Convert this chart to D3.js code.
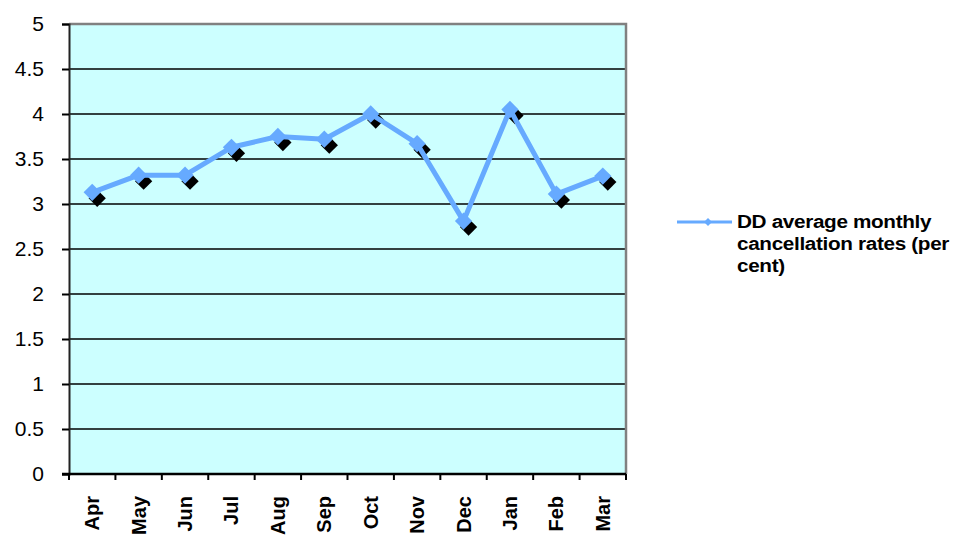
<!DOCTYPE html>
<html>
<head>
<meta charset="utf-8">
<script src="https://cdn.jsdelivr.net/npm/d3@7/dist/d3.min.js"></script>
<style>
  html, body { margin: 0; padding: 0; background: #fff; }
  svg { display: block; font-family: Arial, "Liberation Sans", sans-serif; }
</style>
</head>
<body>
<svg id="chart" width="963" height="544"></svg>
<script>
// Monthly cancellation rates (per cent), April to March
const months = ["Apr", "May", "Jun", "Jul", "Aug", "Sep", "Oct", "Nov", "Dec", "Jan", "Feb", "Mar"];
const rates = [3.13, 3.32, 3.32, 3.63, 3.75, 3.72, 4.0, 3.67, 2.81, 4.05, 3.11, 3.31];
const yTicks = [0, 0.5, 1, 1.5, 2, 2.5, 3, 3.5, 4, 4.5, 5];
const seriesName = ["DD average monthly", "cancellation rates (per", "cent)"];

const svg = d3.select("#chart");
const plot = { left: 69, top: 24, right: 626, bottom: 474 };
const lineColor = "#66aaff";

const x = d3.scaleBand().domain(months).range([plot.left, plot.right]).padding(0);
const y = d3.scaleLinear().domain([0, 5]).range([plot.bottom, plot.top]);

// plot background
svg.append("rect")
  .attr("x", plot.left).attr("y", plot.top)
  .attr("width", plot.right - plot.left).attr("height", plot.bottom - plot.top)
  .attr("fill", "#ccffff");

// horizontal gridlines
svg.append("g").selectAll("line")
  .data(yTicks.filter(d => d > 0 && d < 5))
  .join("line")
  .attr("x1", plot.left).attr("x2", plot.right)
  .attr("y1", d => y(d)).attr("y2", d => y(d))
  .attr("stroke", "#000").attr("stroke-width", 1.6);

// grey frame on top and right
svg.append("path")
  .attr("d", `M${plot.left},${plot.top}H${plot.right}V${plot.bottom}`)
  .attr("fill", "none").attr("stroke", "#808080").attr("stroke-width", 2.5);

// y axis
const yAxis = svg.append("g")
  .attr("transform", `translate(${plot.left},0)`)
  .call(d3.axisLeft(y).tickValues(yTicks).tickSize(7).tickPadding(18).tickFormat(d => d));
yAxis.select(".domain").attr("stroke", "#222").attr("stroke-width", 2);
yAxis.selectAll(".tick line").attr("stroke", "#000").attr("stroke-width", 2);
yAxis.selectAll(".tick text")
  .attr("font-size", 21).attr("fill", "#000")
  .attr("font-family", "Arial, 'Liberation Sans', sans-serif");

// x axis with ticks at category boundaries
const xAxis = svg.append("g")
  .attr("transform", `translate(0,${plot.bottom})`);
xAxis.append("line")
  .attr("x1", plot.left - 7).attr("x2", plot.right)
  .attr("stroke", "#000").attr("stroke-width", 2.5);
const bounds = months.map(m => x(m)).concat([x(months[months.length - 1]) + x.bandwidth()]);
xAxis.selectAll("line.tk").data(bounds).join("line")
  .attr("class", "tk")
  .attr("x1", d => d).attr("x2", d => d)
  .attr("y1", 0).attr("y2", 6)
  .attr("stroke", "#000").attr("stroke-width", 2);
xAxis.selectAll("text").data(months).join("text")
  .attr("transform", d => `translate(${x(d) + x.bandwidth() / 2 + 7},22) rotate(-90)`)
  .attr("text-anchor", "end")
  .attr("font-size", 20).attr("font-weight", "bold").attr("fill", "#000")
  .text(d => d);

// series
const pts = months.map((m, i) => ({ m, v: rates[i] }));
const cx = d => x(d.m) + x.bandwidth() / 2;
const diamond = d3.symbol().type(d3.symbolDiamond2).size(190);

// dark shadow markers
svg.append("g").selectAll("path").data(pts).join("path")
  .attr("d", diamond)
  .attr("transform", d => `translate(${cx(d) + 5},${y(d.v) + 6})`)
  .attr("fill", "#000");

svg.append("path")
  .datum(pts)
  .attr("d", d3.line().x(cx).y(d => y(d.v)))
  .attr("fill", "none").attr("stroke", lineColor).attr("stroke-width", 5)
  .attr("stroke-linejoin", "round");

svg.append("g").selectAll("path").data(pts).join("path")
  .attr("d", diamond)
  .attr("transform", d => `translate(${cx(d)},${y(d.v)})`)
  .attr("fill", lineColor);

// legend
const lg = svg.append("g").attr("transform", "translate(677,222)");
lg.append("line").attr("x1", 0).attr("x2", 55).attr("y1", 0).attr("y2", 0)
  .attr("stroke", lineColor).attr("stroke-width", 3);
lg.append("path").attr("d", d3.symbol().type(d3.symbolDiamond2).size(40))
  .attr("transform", "translate(31,0)").attr("fill", lineColor);
const lt = lg.append("g").attr("transform", "translate(60,6) scale(1.12,1)");
lt.selectAll("text").data(seriesName).join("text")
  .attr("x", 0).attr("y", (d, i) => i * 22)
  .attr("font-size", 18.5).attr("font-weight", "bold").attr("fill", "#000")
  .attr("letter-spacing", -0.3)
  .text(d => d);
</script>
</body>
</html>
